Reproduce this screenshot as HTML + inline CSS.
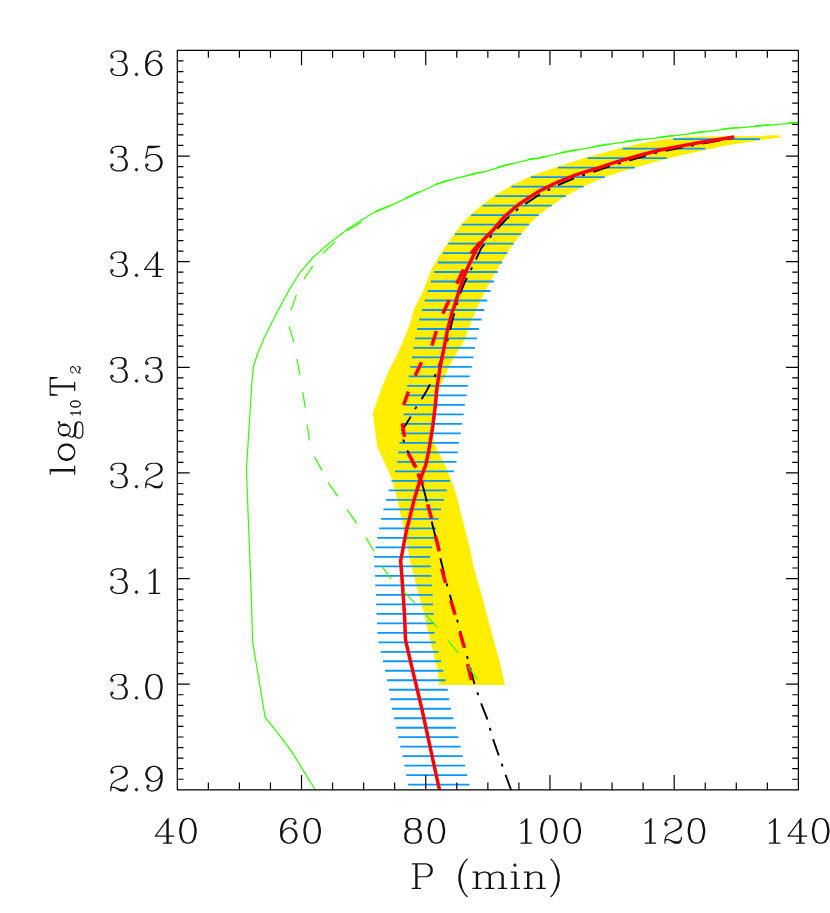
<!DOCTYPE html>
<html><head><meta charset="utf-8"><title>log10 T2 vs P (min)</title>
<style>
html,body{margin:0;padding:0;background:#fff;font-family:"Liberation Sans",sans-serif;}
svg{display:block;}
</style></head>
<body>
<svg width="830" height="913" viewBox="0 0 830 913">
<rect width="830" height="913" fill="#fff"/>
<defs><clipPath id="c"><rect x="177.3" y="50.4" width="621.1" height="739.4"/></clipPath></defs>
<g clip-path="url(#c)">
<polygon points="780.2,135.2 764.6,135.4 764.0,136.2 734.0,136.2 685.3,136.7 673.5,138.3 660.0,139.9 640.0,143.4 622.5,147.5 587.6,157.0 558.1,166.5 531.1,176.0 511.5,185.5 495.3,195.0 482.5,204.5 471.2,214.0 462.1,223.5 455.0,233.0 447.5,243.5 441.0,253.0 431.8,268.6 423.5,290.0 413.6,310.0 411.2,319.9 407.7,329.7 403.8,339.6 399.4,349.4 394.9,359.3 390.0,368.1 380.8,390.0 372.9,413.2 374.9,429.4 377.3,447.1 384.7,462.9 392.1,480.0 395.9,493.7 399.8,511.1 403.6,526.5 406.5,540.0 409.4,558.9 417.1,587.8 424.8,616.7 431.6,645.7 437.3,668.8 439.0,685.0 505.0,685.0 500.0,663.0 495.2,645.7 488.4,620.6 480.7,591.7 474.0,568.6 470.1,549.3 466.3,534.2 461.4,514.9 456.6,495.7 451.3,480.0 445.0,464.9 438.9,453.1 433.9,441.2 431.5,437.0 432.5,418.6 436.4,399.3 440.2,385.9 443.7,379.0 448.1,369.1 453.1,359.3 459.0,349.4 464.9,339.6 470.0,324.8 477.5,307.1 487.0,287.8 497.5,268.6 507.4,252.8 513.7,243.3 521.2,233.9 529.2,224.4 538.8,214.9 551.7,205.4 565.8,195.9 583.7,186.4 604.8,176.9 634.9,167.4 666.7,159.1 676.9,156.3 693.7,152.4 710.6,148.7 727.5,145.3 744.3,142.8 761.2,139.9 780.2,137.7" fill="#ffee00"/>
<path d="M673.2,139.10H759.9M622.5,148.59H705.4M587.6,158.09H666.7M558.1,167.58H634.9M531.1,177.08H604.8M511.5,186.57H583.7M495.3,196.06H565.8M482.5,205.56H551.7M471.2,215.05H538.8M462.1,224.55H529.2M455.0,234.04H521.2M448.2,243.53H513.7M442.8,253.03H507.4M438.0,262.52H502.2M434.1,272.02H497.7M430.7,281.51H493.9M427.6,291.00H490.6M424.7,300.50H487.3M422.0,309.99H484.2M419.3,319.49H481.5M417.0,328.98H479.0M415.0,338.47H476.9M413.5,347.97H475.0M412.0,357.46H473.4M410.2,366.96H471.7M408.7,376.45H469.8M407.1,385.94H467.9M406.5,395.44H466.5M405.5,404.93H464.9M403.6,414.43H463.6M402.1,423.92H462.2M400.7,433.41H460.7M399.4,442.91H459.1M398.2,452.40H457.8M397.1,461.90H456.5M394.9,471.39H453.8M391.5,480.88H450.1M388.6,490.38H446.8M385.9,499.87H443.9M383.4,509.37H441.0M381.1,518.86H438.5M379.1,528.35H436.0M377.2,537.85H433.9M375.5,547.34H432.0M374.1,556.84H430.2M374.3,566.33H430.8M374.9,575.82H431.4M375.3,585.32H432.1M375.9,594.81H432.7M376.2,604.31H433.1M376.6,613.80H433.7M377.0,623.29H434.1M377.4,632.79H434.5M378.4,642.28H435.8M380.7,651.78H438.7M383.0,661.27H441.0M385.1,670.76H443.3M387.1,680.26H445.6M389.1,689.75H447.7M390.3,699.25H449.3M392.0,708.74H451.0M394.1,718.23H453.3M396.2,727.73H455.8M398.2,737.22H458.3M400.3,746.72H460.6M402.4,756.21H462.7M404.3,765.70H465.1M406.3,775.20H467.2M408.2,784.69H469.5" stroke="#0a96ff" stroke-width="1.8" fill="none"/>
<polyline points="734.2,137.8 693.7,145.2 660.0,151.8 640.0,157.4 614.9,164.6 595.7,171.0 576.8,177.3 557.8,185.2 538.8,195.0 519.8,207.5 506.4,219.0 495.3,231.0 481.2,248.2 474.8,262.0 469.9,271.9 465.0,281.7 459.6,295.0 453.1,317.4 449.6,332.2 446.9,342.5 441.0,360.0 434.3,377.5 428.9,386.4 427.1,390.0 421.2,399.9 415.2,408.7 409.3,419.1 401.0,432.4 404.4,443.2 408.3,452.6 416.3,472.0 423.2,487.2 427.1,502.5 432.1,523.2 435.0,535.0 440.6,559.2 447.5,586.8 457.5,621.3 467.4,657.4 474.3,683.4 481.1,703.4 487.2,718.8 493.0,739.0 498.4,754.5 505.5,774.7 510.9,789.5 512.0,792.5" fill="none" stroke="#000" stroke-width="1.9" stroke-dasharray="17.3 8.7 3 8.7" stroke-dashoffset="22.92"/>
<polyline points="734.2,136.9 693.7,143.6 660.0,150.0 640.0,155.3 614.9,162.4 595.7,168.8 576.4,174.6 557.1,182.3 537.8,191.9 518.6,204.5 505.0,216.0 493.1,230.0 483.2,239.9 476.3,249.7 471.4,259.6 466.9,269.4 463.0,279.3 459.6,289.1 456.6,299.0 453.6,308.8 452.6,310.0 450.1,319.9 447.6,329.7 445.7,339.6 443.7,349.4 441.7,359.3 439.8,369.1 438.3,379.0 436.8,388.8 435.4,405.1 432.5,428.2 428.7,451.3 425.8,464.8 420.0,480.2 414.2,499.5 409.4,518.8 406.5,530.0 400.7,560.8 402.7,587.8 404.6,616.7 405.5,639.9 411.3,664.9 421.7,708.2 431.3,752.5 439.4,789.5 440.0,792.0" fill="none" stroke="#ff0000" stroke-width="3.5" stroke-linejoin="round"/>
<path d="M480.4,241.8L470.9,253.6M463.5,269.4L456.8,283.7M449.2,300.0L442.8,313.8M436.4,331.0L431.9,345.5M421.5,362.2L415.2,375.7M408.4,391.6L403.6,405.1M402.2,423.4L404.6,436.9M408.4,453.3L416.1,467.7M418.1,473.5L422.9,485.1M427.7,504.3L431.6,518.8M435.4,535.8L439.3,551.2M441.6,568.6L445.6,583.0M450.8,600.4L455.1,614.8M459.9,632.2L464.3,647.6M467.6,664.0L471.4,680.2" stroke="#ff0000" stroke-width="3.5" fill="none"/>
<polyline points="800.0,122.5 798.0,122.7 727.5,128.8 660.0,137.7 640.0,139.9 614.9,143.3 595.7,146.6 576.4,150.1 557.1,153.9 537.8,158.6 530.0,159.3 504.9,165.7 485.7,171.4 456.7,178.2 437.5,184.0 418.2,192.7 389.3,206.1 372.5,213.2 348.4,228.5 328.6,243.8 313.3,257.0 300.1,272.3 289.2,289.9 283.7,299.7 273.8,318.4 265.1,335.9 258.5,351.2 253.7,365.5 251.9,381.9 250.8,400.0 246.4,470.1 251.5,600.0 252.6,641.6 265.1,717.2 278.2,733.7 291.4,751.2 302.3,768.7 315.0,789.5 316.5,792.0" fill="none" stroke="#33ff00" stroke-width="1.2"/>
<path d="M361.5,221.9L347.3,230.7M335.2,241.6L323.2,253.0M312.8,265.8L303.9,279.3M296.4,294.9L290.9,310.2M289.2,326.7L294.0,342.5M296.8,358.9L300.1,375.3M302.8,391.8L305.2,407.7M307.2,424.5L309.3,440.5M314.4,456.5L322.1,470.6M328.2,482.8L337.8,496.4M347.3,509.6L356.7,523.4M365.9,537.6L374.2,551.2M382.3,566.6L391.1,579.2M403.6,591.7L414.8,602.9M425.8,614.8L437.0,627.0M448.0,640.5L458.0,652.6M468.2,666.5L477.4,679.4" stroke="#33ff00" stroke-width="1.2" fill="none"/>
<polyline points="800.0,122.5 798.0,122.7 727.5,128.8 660.0,137.7 640.0,139.9 614.9,143.3 595.7,146.6 576.4,150.1 557.1,153.9 537.8,158.6 530.0,159.3 504.9,165.7 485.7,171.4 456.7,178.2 437.5,184.0 418.2,192.7 389.3,206.1 372.5,213.2" fill="none" stroke="#33ff00" stroke-width="1.1" stroke-dasharray="16.5 16.1" stroke-dashoffset="3.2" transform="translate(0,-0.6)"/>
</g>
<path d="M177.3,50.4H798.4V789.8H177.3ZM177.30,789.8v-14.8M177.30,50.4v14.8M208.36,789.8v-7.4M208.36,50.4v7.4M239.41,789.8v-7.4M239.41,50.4v7.4M270.46,789.8v-7.4M270.46,50.4v7.4M301.52,789.8v-14.8M301.52,50.4v14.8M332.57,789.8v-7.4M332.57,50.4v7.4M363.63,789.8v-7.4M363.63,50.4v7.4M394.68,789.8v-7.4M394.68,50.4v7.4M425.74,789.8v-14.8M425.74,50.4v14.8M456.79,789.8v-7.4M456.79,50.4v7.4M487.85,789.8v-7.4M487.85,50.4v7.4M518.90,789.8v-7.4M518.90,50.4v7.4M549.96,789.8v-14.8M549.96,50.4v14.8M581.01,789.8v-7.4M581.01,50.4v7.4M612.07,789.8v-7.4M612.07,50.4v7.4M643.12,789.8v-7.4M643.12,50.4v7.4M674.18,789.8v-14.8M674.18,50.4v14.8M705.23,789.8v-7.4M705.23,50.4v7.4M736.29,789.8v-7.4M736.29,50.4v7.4M767.35,789.8v-7.4M767.35,50.4v7.4M798.40,789.8v-14.8M798.40,50.4v14.8M177.3,789.80h12.4M798.4,789.80h-12.4M177.3,779.24h6.2M798.4,779.24h-6.2M177.3,768.67h6.2M798.4,768.67h-6.2M177.3,758.11h6.2M798.4,758.11h-6.2M177.3,747.55h6.2M798.4,747.55h-6.2M177.3,736.99h6.2M798.4,736.99h-6.2M177.3,726.42h6.2M798.4,726.42h-6.2M177.3,715.86h6.2M798.4,715.86h-6.2M177.3,705.30h6.2M798.4,705.30h-6.2M177.3,694.73h6.2M798.4,694.73h-6.2M177.3,684.17h12.4M798.4,684.17h-12.4M177.3,673.61h6.2M798.4,673.61h-6.2M177.3,663.05h6.2M798.4,663.05h-6.2M177.3,652.48h6.2M798.4,652.48h-6.2M177.3,641.92h6.2M798.4,641.92h-6.2M177.3,631.36h6.2M798.4,631.36h-6.2M177.3,620.79h6.2M798.4,620.79h-6.2M177.3,610.23h6.2M798.4,610.23h-6.2M177.3,599.67h6.2M798.4,599.67h-6.2M177.3,589.11h6.2M798.4,589.11h-6.2M177.3,578.54h12.4M798.4,578.54h-12.4M177.3,567.98h6.2M798.4,567.98h-6.2M177.3,557.42h6.2M798.4,557.42h-6.2M177.3,546.85h6.2M798.4,546.85h-6.2M177.3,536.29h6.2M798.4,536.29h-6.2M177.3,525.73h6.2M798.4,525.73h-6.2M177.3,515.17h6.2M798.4,515.17h-6.2M177.3,504.60h6.2M798.4,504.60h-6.2M177.3,494.04h6.2M798.4,494.04h-6.2M177.3,483.48h6.2M798.4,483.48h-6.2M177.3,472.91h12.4M798.4,472.91h-12.4M177.3,462.35h6.2M798.4,462.35h-6.2M177.3,451.79h6.2M798.4,451.79h-6.2M177.3,441.23h6.2M798.4,441.23h-6.2M177.3,430.66h6.2M798.4,430.66h-6.2M177.3,420.10h6.2M798.4,420.10h-6.2M177.3,409.54h6.2M798.4,409.54h-6.2M177.3,398.97h6.2M798.4,398.97h-6.2M177.3,388.41h6.2M798.4,388.41h-6.2M177.3,377.85h6.2M798.4,377.85h-6.2M177.3,367.29h12.4M798.4,367.29h-12.4M177.3,356.72h6.2M798.4,356.72h-6.2M177.3,346.16h6.2M798.4,346.16h-6.2M177.3,335.60h6.2M798.4,335.60h-6.2M177.3,325.03h6.2M798.4,325.03h-6.2M177.3,314.47h6.2M798.4,314.47h-6.2M177.3,303.91h6.2M798.4,303.91h-6.2M177.3,293.35h6.2M798.4,293.35h-6.2M177.3,282.78h6.2M798.4,282.78h-6.2M177.3,272.22h6.2M798.4,272.22h-6.2M177.3,261.66h12.4M798.4,261.66h-12.4M177.3,251.09h6.2M798.4,251.09h-6.2M177.3,240.53h6.2M798.4,240.53h-6.2M177.3,229.97h6.2M798.4,229.97h-6.2M177.3,219.41h6.2M798.4,219.41h-6.2M177.3,208.84h6.2M798.4,208.84h-6.2M177.3,198.28h6.2M798.4,198.28h-6.2M177.3,187.72h6.2M798.4,187.72h-6.2M177.3,177.15h6.2M798.4,177.15h-6.2M177.3,166.59h6.2M798.4,166.59h-6.2M177.3,156.03h12.4M798.4,156.03h-12.4M177.3,145.47h6.2M798.4,145.47h-6.2M177.3,134.90h6.2M798.4,134.90h-6.2M177.3,124.34h6.2M798.4,124.34h-6.2M177.3,113.78h6.2M798.4,113.78h-6.2M177.3,103.21h6.2M798.4,103.21h-6.2M177.3,92.65h6.2M798.4,92.65h-6.2M177.3,82.09h6.2M798.4,82.09h-6.2M177.3,71.53h6.2M798.4,71.53h-6.2M177.3,60.96h6.2M798.4,60.96h-6.2M177.3,50.40h12.4M798.4,50.40h-12.4" stroke="#000" stroke-width="1.2" fill="none" stroke-linecap="butt" stroke-linejoin="round"/>
<path d="M166.98,820.95L166.98,843.09M168.15,818.62L168.15,843.09M168.15,818.62L155.33,836.10L173.97,836.10M163.49,843.09L171.64,843.09M186.78,818.62L183.29,819.78L180.96,823.28L179.80,829.11L179.80,832.60L180.96,838.43L183.29,841.92L186.78,843.09L189.12,843.09L192.61,841.92L194.94,838.43L196.11,832.60L196.11,829.11L194.94,823.28L192.61,819.78L189.12,818.62L186.78,818.62M186.78,818.62L184.46,819.78L183.29,820.95L182.12,823.28L180.96,829.11L180.96,832.60L182.12,838.43L183.29,840.75L184.46,841.92L186.78,843.09M189.12,843.09L191.44,841.92L192.61,840.75L193.78,838.43L194.94,832.60L194.94,829.11L193.78,823.28L192.61,820.95L191.44,819.78L189.12,818.62M294.69,822.12L293.53,823.28L294.69,824.45L295.86,823.28L295.86,822.12L294.69,819.78L292.36,818.62L288.87,818.62L285.38,819.78L283.04,822.12L281.88,824.45L280.71,829.11L280.71,836.10L281.88,839.59L284.21,841.92L287.70,843.09L290.03,843.09L293.53,841.92L295.86,839.59L297.02,836.10L297.02,834.93L295.86,831.44L293.53,829.11L290.03,827.94L288.87,827.94L285.38,829.11L283.04,831.44L281.88,834.93M288.87,818.62L286.54,819.78L284.21,822.12L283.04,824.45L281.88,829.11L281.88,836.10L283.04,839.59L285.38,841.92L287.70,843.09M290.03,843.09L292.36,841.92L294.69,839.59L295.86,836.10L295.86,834.93L294.69,831.44L292.36,829.11L290.03,827.94M311.00,818.62L307.51,819.78L305.18,823.28L304.01,829.11L304.01,832.60L305.18,838.43L307.51,841.92L311.00,843.09L313.33,843.09L316.83,841.92L319.16,838.43L320.32,832.60L320.32,829.11L319.16,823.28L316.83,819.78L313.33,818.62L311.00,818.62M311.00,818.62L308.67,819.78L307.51,820.95L306.34,823.28L305.18,829.11L305.18,832.60L306.34,838.43L307.51,840.75L308.67,841.92L311.00,843.09M313.33,843.09L315.66,841.92L316.83,840.75L318.00,838.43L319.16,832.60L319.16,829.11L318.00,823.28L316.83,820.95L315.66,819.78L313.33,818.62M410.76,818.62L407.26,819.78L406.10,822.12L406.10,825.61L407.26,827.94L410.76,829.11L415.42,829.11L418.92,827.94L420.08,825.61L420.08,822.12L418.92,819.78L415.42,818.62L410.76,818.62M410.76,818.62L408.43,819.78L407.26,822.12L407.26,825.61L408.43,827.94L410.76,829.11M415.42,829.11L417.75,827.94L418.92,825.61L418.92,822.12L417.75,819.78L415.42,818.62M410.76,829.11L407.26,830.27L406.10,831.44L404.94,833.76L404.94,838.43L406.10,840.75L407.26,841.92L410.76,843.09L415.42,843.09L418.92,841.92L420.08,840.75L421.25,838.43L421.25,833.76L420.08,831.44L418.92,830.27L415.42,829.11M410.76,829.11L408.43,830.27L407.26,831.44L406.10,833.76L406.10,838.43L407.26,840.75L408.43,841.92L410.76,843.09M415.42,843.09L417.75,841.92L418.92,840.75L420.08,838.43L420.08,833.76L418.92,831.44L417.75,830.27L415.42,829.11M435.23,818.62L431.73,819.78L429.40,823.28L428.24,829.11L428.24,832.60L429.40,838.43L431.73,841.92L435.23,843.09L437.56,843.09L441.05,841.92L443.38,838.43L444.55,832.60L444.55,829.11L443.38,823.28L441.05,819.78L437.56,818.62L435.23,818.62M435.23,818.62L432.89,819.78L431.73,820.95L430.56,823.28L429.40,829.11L429.40,832.60L430.56,838.43L431.73,840.75L432.89,841.92L435.23,843.09M437.56,843.09L439.88,841.92L441.05,840.75L442.22,838.43L443.38,832.60L443.38,829.11L442.22,823.28L441.05,820.95L439.88,819.78L437.56,818.62M521.00,823.28L523.33,822.12L526.82,818.62L526.82,843.09M525.66,819.78L525.66,843.09M521.00,843.09L531.48,843.09M547.79,818.62L544.30,819.78L541.97,823.28L540.80,829.11L540.80,832.60L541.97,838.43L544.30,841.92L547.79,843.09L550.12,843.09L553.62,841.92L555.95,838.43L557.11,832.60L557.11,829.11L555.95,823.28L553.62,819.78L550.12,818.62L547.79,818.62M547.79,818.62L545.46,819.78L544.30,820.95L543.13,823.28L541.97,829.11L541.97,832.60L543.13,838.43L544.30,840.75L545.46,841.92L547.79,843.09M550.12,843.09L552.45,841.92L553.62,840.75L554.78,838.43L555.95,832.60L555.95,829.11L554.78,823.28L553.62,820.95L552.45,819.78L550.12,818.62M571.09,818.62L567.60,819.78L565.27,823.28L564.10,829.11L564.10,832.60L565.27,838.43L567.60,841.92L571.09,843.09L573.42,843.09L576.92,841.92L579.25,838.43L580.41,832.60L580.41,829.11L579.25,823.28L576.92,819.78L573.42,818.62L571.09,818.62M571.09,818.62L568.76,819.78L567.60,820.95L566.43,823.28L565.27,829.11L565.27,832.60L566.43,838.43L567.60,840.75L568.76,841.92L571.09,843.09M573.42,843.09L575.75,841.92L576.92,840.75L578.08,838.43L579.25,832.60L579.25,829.11L578.08,823.28L576.92,820.95L575.75,819.78L573.42,818.62M645.22,823.28L647.55,822.12L651.04,818.62L651.04,843.09M649.88,819.78L649.88,843.09M645.22,843.09L655.70,843.09M666.19,823.28L667.35,824.45L666.19,825.61L665.02,824.45L665.02,823.28L666.19,820.95L667.35,819.78L670.85,818.62L675.51,818.62L679.00,819.78L680.17,820.95L681.33,823.28L681.33,825.61L680.17,827.94L676.67,830.27L670.85,832.60L668.52,833.76L666.19,836.10L665.02,839.59L665.02,843.09M675.51,818.62L677.84,819.78L679.00,820.95L680.17,823.28L680.17,825.61L679.00,827.94L675.51,830.27L670.85,832.60M665.02,840.75L666.19,839.59L668.52,839.59L674.34,841.92L677.84,841.92L680.17,840.75L681.33,839.59M668.52,839.59L674.34,843.09L679.00,843.09L680.17,841.92L681.33,839.59L681.33,837.26M695.31,818.62L691.82,819.78L689.49,823.28L688.32,829.11L688.32,832.60L689.49,838.43L691.82,841.92L695.31,843.09L697.64,843.09L701.14,841.92L703.47,838.43L704.63,832.60L704.63,829.11L703.47,823.28L701.14,819.78L697.64,818.62L695.31,818.62M695.31,818.62L692.98,819.78L691.82,820.95L690.65,823.28L689.49,829.11L689.49,832.60L690.65,838.43L691.82,840.75L692.98,841.92L695.31,843.09M697.64,843.09L699.97,841.92L701.14,840.75L702.30,838.43L703.47,832.60L703.47,829.11L702.30,823.28L701.14,820.95L699.97,819.78L697.64,818.62M769.44,823.28L771.77,822.12L775.26,818.62L775.26,843.09M774.10,819.78L774.10,843.09M769.44,843.09L779.92,843.09M799.73,820.95L799.73,843.09M800.89,818.62L800.89,843.09M800.89,818.62L788.08,836.10L806.72,836.10M796.23,843.09L804.39,843.09M819.53,818.62L816.04,819.78L813.71,823.28L812.54,829.11L812.54,832.60L813.71,838.43L816.04,841.92L819.53,843.09L821.86,843.09L825.36,841.92L827.69,838.43L828.85,832.60L828.85,829.11L827.69,823.28L825.36,819.78L821.86,818.62L819.53,818.62M819.53,818.62L817.20,819.78L816.04,820.95L814.87,823.28L813.71,829.11L813.71,832.60L814.87,838.43L816.04,840.75L817.20,841.92L819.53,843.09M821.86,843.09L824.19,841.92L825.36,840.75L826.52,838.43L827.69,832.60L827.69,829.11L826.52,823.28L825.36,820.95L824.19,819.78L821.86,818.62M112.01,55.70L113.17,56.86L112.01,58.02L110.84,56.86L110.84,55.70L112.01,53.37L113.17,52.20L116.67,51.03L121.33,51.03L124.82,52.20L125.99,54.53L125.99,58.02L124.82,60.36L121.33,61.52L117.83,61.52M121.33,51.03L123.66,52.20L124.82,54.53L124.82,58.02L123.66,60.36L121.33,61.52M121.33,61.52L123.66,62.69L125.99,65.02L127.16,67.34L127.16,70.84L125.99,73.17L124.82,74.34L121.33,75.50L116.67,75.50L113.17,74.34L112.01,73.17L110.84,70.84L110.84,69.67L112.01,68.51L113.17,69.67L112.01,70.84M124.82,63.85L125.99,67.34L125.99,70.84L124.82,73.17L123.66,74.34L121.33,75.50M136.47,73.17L135.31,74.34L136.47,75.50L137.64,74.34L136.47,73.17M159.78,54.53L158.61,55.70L159.78,56.86L160.94,55.70L160.94,54.53L159.78,52.20L157.44,51.03L153.95,51.03L150.45,52.20L148.12,54.53L146.96,56.86L145.79,61.52L145.79,68.51L146.96,72.00L149.29,74.34L152.78,75.50L155.12,75.50L158.61,74.34L160.94,72.00L162.10,68.51L162.10,67.34L160.94,63.85L158.61,61.52L155.12,60.36L153.95,60.36L150.45,61.52L148.12,63.85L146.96,67.34M153.95,51.03L151.62,52.20L149.29,54.53L148.12,56.86L146.96,61.52L146.96,68.51L148.12,72.00L150.45,74.34L152.78,75.50M155.12,75.50L157.44,74.34L159.78,72.00L160.94,68.51L160.94,67.34L159.78,63.85L157.44,61.52L155.12,60.36M112.01,151.02L113.17,152.19L112.01,153.35L110.84,152.19L110.84,151.02L112.01,148.69L113.17,147.53L116.67,146.36L121.33,146.36L124.82,147.53L125.99,149.86L125.99,153.35L124.82,155.68L121.33,156.85L117.83,156.85M121.33,146.36L123.66,147.53L124.82,149.86L124.82,153.35L123.66,155.68L121.33,156.85M121.33,156.85L123.66,158.01L125.99,160.34L127.16,162.67L127.16,166.17L125.99,168.50L124.82,169.66L121.33,170.83L116.67,170.83L113.17,169.66L112.01,168.50L110.84,166.17L110.84,165.00L112.01,163.84L113.17,165.00L112.01,166.17M124.82,159.18L125.99,162.67L125.99,166.17L124.82,168.50L123.66,169.66L121.33,170.83M136.47,168.50L135.31,169.66L136.47,170.83L137.64,169.66L136.47,168.50M148.12,146.36L145.79,158.01M145.79,158.01L148.12,155.68L151.62,154.52L155.12,154.52L158.61,155.68L160.94,158.01L162.10,161.51L162.10,163.84L160.94,167.33L158.61,169.66L155.12,170.83L151.62,170.83L148.12,169.66L146.96,168.50L145.79,166.17L145.79,165.00L146.96,163.84L148.12,165.00L146.96,166.17M155.12,154.52L157.44,155.68L159.78,158.01L160.94,161.51L160.94,163.84L159.78,167.33L157.44,169.66L155.12,170.83M148.12,146.36L159.78,146.36M148.12,147.53L153.95,147.53L159.78,146.36M112.01,256.65L113.17,257.82L112.01,258.98L110.84,257.82L110.84,256.65L112.01,254.32L113.17,253.16L116.67,251.99L121.33,251.99L124.82,253.16L125.99,255.49L125.99,258.98L124.82,261.31L121.33,262.48L117.83,262.48M121.33,251.99L123.66,253.16L124.82,255.49L124.82,258.98L123.66,261.31L121.33,262.48M121.33,262.48L123.66,263.64L125.99,265.97L127.16,268.30L127.16,271.80L125.99,274.13L124.82,275.29L121.33,276.46L116.67,276.46L113.17,275.29L112.01,274.13L110.84,271.80L110.84,270.63L112.01,269.47L113.17,270.63L112.01,271.80M124.82,264.81L125.99,268.30L125.99,271.80L124.82,274.13L123.66,275.29L121.33,276.46M136.47,274.13L135.31,275.29L136.47,276.46L137.64,275.29L136.47,274.13M156.28,254.32L156.28,276.46M157.44,251.99L157.44,276.46M157.44,251.99L144.63,269.47L163.27,269.47M152.78,276.46L160.94,276.46M112.01,362.28L113.17,363.45L112.01,364.61L110.84,363.45L110.84,362.28L112.01,359.95L113.17,358.79L116.67,357.62L121.33,357.62L124.82,358.79L125.99,361.12L125.99,364.61L124.82,366.94L121.33,368.11L117.83,368.11M121.33,357.62L123.66,358.79L124.82,361.12L124.82,364.61L123.66,366.94L121.33,368.11M121.33,368.11L123.66,369.27L125.99,371.60L127.16,373.93L127.16,377.43L125.99,379.76L124.82,380.92L121.33,382.09L116.67,382.09L113.17,380.92L112.01,379.76L110.84,377.43L110.84,376.26L112.01,375.10L113.17,376.26L112.01,377.43M124.82,370.44L125.99,373.93L125.99,377.43L124.82,379.76L123.66,380.92L121.33,382.09M136.47,379.76L135.31,380.92L136.47,382.09L137.64,380.92L136.47,379.76M146.96,362.28L148.12,363.45L146.96,364.61L145.79,363.45L145.79,362.28L146.96,359.95L148.12,358.79L151.62,357.62L156.28,357.62L159.78,358.79L160.94,361.12L160.94,364.61L159.78,366.94L156.28,368.11L152.78,368.11M156.28,357.62L158.61,358.79L159.78,361.12L159.78,364.61L158.61,366.94L156.28,368.11M156.28,368.11L158.61,369.27L160.94,371.60L162.10,373.93L162.10,377.43L160.94,379.76L159.78,380.92L156.28,382.09L151.62,382.09L148.12,380.92L146.96,379.76L145.79,377.43L145.79,376.26L146.96,375.10L148.12,376.26L146.96,377.43M159.78,370.44L160.94,373.93L160.94,377.43L159.78,379.76L158.61,380.92L156.28,382.09M112.01,467.91L113.17,469.07L112.01,470.24L110.84,469.07L110.84,467.91L112.01,465.58L113.17,464.41L116.67,463.25L121.33,463.25L124.82,464.41L125.99,466.74L125.99,470.24L124.82,472.57L121.33,473.73L117.83,473.73M121.33,463.25L123.66,464.41L124.82,466.74L124.82,470.24L123.66,472.57L121.33,473.73M121.33,473.73L123.66,474.90L125.99,477.23L127.16,479.56L127.16,483.05L125.99,485.38L124.82,486.55L121.33,487.71L116.67,487.71L113.17,486.55L112.01,485.38L110.84,483.05L110.84,481.89L112.01,480.72L113.17,481.89L112.01,483.05M124.82,476.06L125.99,479.56L125.99,483.05L124.82,485.38L123.66,486.55L121.33,487.71M136.47,485.38L135.31,486.55L136.47,487.71L137.64,486.55L136.47,485.38M146.96,467.91L148.12,469.07L146.96,470.24L145.79,469.07L145.79,467.91L146.96,465.58L148.12,464.41L151.62,463.25L156.28,463.25L159.78,464.41L160.94,465.58L162.10,467.91L162.10,470.24L160.94,472.57L157.44,474.90L151.62,477.23L149.29,478.39L146.96,480.72L145.79,484.22L145.79,487.71M156.28,463.25L158.61,464.41L159.78,465.58L160.94,467.91L160.94,470.24L159.78,472.57L156.28,474.90L151.62,477.23M145.79,485.38L146.96,484.22L149.29,484.22L155.12,486.55L158.61,486.55L160.94,485.38L162.10,484.22M149.29,484.22L155.12,487.71L159.78,487.71L160.94,486.55L162.10,484.22L162.10,481.89M112.01,573.54L113.17,574.70L112.01,575.87L110.84,574.70L110.84,573.54L112.01,571.21L113.17,570.04L116.67,568.88L121.33,568.88L124.82,570.04L125.99,572.37L125.99,575.87L124.82,578.20L121.33,579.36L117.83,579.36M121.33,568.88L123.66,570.04L124.82,572.37L124.82,575.87L123.66,578.20L121.33,579.36M121.33,579.36L123.66,580.53L125.99,582.86L127.16,585.19L127.16,588.68L125.99,591.01L124.82,592.18L121.33,593.34L116.67,593.34L113.17,592.18L112.01,591.01L110.84,588.68L110.84,587.52L112.01,586.35L113.17,587.52L112.01,588.68M124.82,581.69L125.99,585.19L125.99,588.68L124.82,591.01L123.66,592.18L121.33,593.34M136.47,591.01L135.31,592.18L136.47,593.34L137.64,592.18L136.47,591.01M149.29,573.54L151.62,572.37L155.12,568.88L155.12,593.34M153.95,570.04L153.95,593.34M149.29,593.34L159.78,593.34M112.01,679.17L113.17,680.33L112.01,681.50L110.84,680.33L110.84,679.17L112.01,676.84L113.17,675.67L116.67,674.51L121.33,674.51L124.82,675.67L125.99,678.00L125.99,681.50L124.82,683.83L121.33,684.99L117.83,684.99M121.33,674.51L123.66,675.67L124.82,678.00L124.82,681.50L123.66,683.83L121.33,684.99M121.33,684.99L123.66,686.16L125.99,688.49L127.16,690.82L127.16,694.31L125.99,696.64L124.82,697.81L121.33,698.97L116.67,698.97L113.17,697.81L112.01,696.64L110.84,694.31L110.84,693.15L112.01,691.98L113.17,693.15L112.01,694.31M124.82,687.32L125.99,690.82L125.99,694.31L124.82,696.64L123.66,697.81L121.33,698.97M136.47,696.64L135.31,697.81L136.47,698.97L137.64,697.81L136.47,696.64M152.78,674.51L149.29,675.67L146.96,679.17L145.79,684.99L145.79,688.49L146.96,694.31L149.29,697.81L152.78,698.97L155.12,698.97L158.61,697.81L160.94,694.31L162.10,688.49L162.10,684.99L160.94,679.17L158.61,675.67L155.12,674.51L152.78,674.51M152.78,674.51L150.45,675.67L149.29,676.84L148.12,679.17L146.96,684.99L146.96,688.49L148.12,694.31L149.29,696.64L150.45,697.81L152.78,698.97M155.12,698.97L157.44,697.81L158.61,696.64L159.78,694.31L160.94,688.49L160.94,684.99L159.78,679.17L158.61,676.84L157.44,675.67L155.12,674.51M112.01,770.99L113.17,772.16L112.01,773.32L110.84,772.16L110.84,770.99L112.01,768.66L113.17,767.50L116.67,766.33L121.33,766.33L124.82,767.50L125.99,768.66L127.16,770.99L127.16,773.32L125.99,775.65L122.49,777.98L116.67,780.31L114.34,781.48L112.01,783.81L110.84,787.30L110.84,790.80M121.33,766.33L123.66,767.50L124.82,768.66L125.99,770.99L125.99,773.32L124.82,775.65L121.33,777.98L116.67,780.31M110.84,788.47L112.01,787.30L114.34,787.30L120.16,789.63L123.66,789.63L125.99,788.47L127.16,787.30M114.34,787.30L120.16,790.80L124.82,790.80L125.99,789.63L127.16,787.30L127.16,784.97M136.47,788.47L135.31,789.63L136.47,790.80L137.64,789.63L136.47,788.47M160.94,774.49L159.78,777.98L157.44,780.31L153.95,781.48L152.78,781.48L149.29,780.31L146.96,777.98L145.79,774.49L145.79,773.32L146.96,769.83L149.29,767.50L152.78,766.33L155.12,766.33L158.61,767.50L160.94,769.83L162.10,773.32L162.10,780.31L160.94,784.97L159.78,787.30L157.44,789.63L153.95,790.80L150.45,790.80L148.12,789.63L146.96,787.30L146.96,786.14L148.12,784.97L149.29,786.14L148.12,787.30M152.78,781.48L150.45,780.31L148.12,777.98L146.96,774.49L146.96,773.32L148.12,769.83L150.45,767.50L152.78,766.33M155.12,766.33L157.44,767.50L159.78,769.83L160.94,773.32L160.94,780.31L159.78,784.97L158.61,787.30L156.28,789.63L153.95,790.80M415.82,863.92L415.82,888.38M416.99,863.92L416.99,888.38M412.33,863.92L426.31,863.92L429.81,865.08L430.97,866.25L432.13,868.58L432.13,872.07L430.97,874.40L429.81,875.57L426.31,876.74L416.99,876.74M426.31,863.92L428.64,865.08L429.81,866.25L430.97,868.58L430.97,872.07L429.81,874.40L428.64,875.57L426.31,876.74M412.33,888.38L420.49,888.38M467.09,859.26L464.75,861.59L462.43,865.08L460.10,869.75L458.93,875.57L458.93,880.23L460.10,886.05L462.43,890.72L464.75,894.21L467.09,896.54M464.75,861.59L462.43,866.25L461.26,869.75L460.10,875.57L460.10,880.23L461.26,886.05L462.43,889.55L464.75,894.21M476.40,872.07L476.40,888.38M477.57,872.07L477.57,888.38M477.57,875.57L479.90,873.24L483.39,872.07L485.73,872.07L489.22,873.24L490.38,875.57L490.38,888.38M485.73,872.07L488.06,873.24L489.22,875.57L489.22,888.38M490.38,875.57L492.72,873.24L496.21,872.07L498.54,872.07L502.04,873.24L503.20,875.57L503.20,888.38M498.54,872.07L500.87,873.24L502.04,875.57L502.04,888.38M472.91,872.07L477.57,872.07M472.91,888.38L481.06,888.38M485.73,888.38L493.88,888.38M498.54,888.38L506.69,888.38M514.85,863.92L513.68,865.08L514.85,866.25L516.01,865.08L514.85,863.92M514.85,872.07L514.85,888.38M516.01,872.07L516.01,888.38M511.36,872.07L516.01,872.07M511.36,888.38L519.51,888.38M527.66,872.07L527.66,888.38M528.83,872.07L528.83,888.38M528.83,875.57L531.16,873.24L534.65,872.07L536.99,872.07L540.48,873.24L541.64,875.57L541.64,888.38M536.99,872.07L539.32,873.24L540.48,875.57L540.48,888.38M524.17,872.07L528.83,872.07M524.17,888.38L532.33,888.38M536.99,888.38L545.14,888.38M550.97,859.26L553.29,861.59L555.62,865.08L557.95,869.75L559.12,875.57L559.12,880.23L557.95,886.05L555.62,890.72L553.29,894.21L550.97,896.54M553.29,861.59L555.62,866.25L556.79,869.75L557.95,875.57L557.95,880.23L556.79,886.05L555.62,889.55L553.29,894.21M50.22,470.78L74.69,470.78M50.22,469.61L74.69,469.61M50.22,474.27L50.22,469.61M74.69,474.27L74.69,466.12M58.38,453.30L59.54,456.80L61.87,459.12L65.37,460.29L67.70,460.29L71.19,459.12L73.52,456.80L74.69,453.30L74.69,450.97L73.52,447.48L71.19,445.15L67.70,443.98L65.37,443.98L61.87,445.15L59.54,447.48L58.38,450.97L58.38,453.30M58.38,453.30L59.54,455.63L61.87,457.96L65.37,459.12L67.70,459.12L71.19,457.96L73.52,455.63L74.69,453.30M74.69,450.97L73.52,448.64L71.19,446.31L67.70,445.15L65.37,445.15L61.87,446.31L59.54,448.64L58.38,450.97M58.38,431.17L59.54,433.50L60.71,434.66L63.04,435.83L65.37,435.83L67.70,434.66L68.86,433.50L70.03,431.17L70.03,428.84L68.86,426.50L67.70,425.34L65.37,424.18L63.04,424.18L60.71,425.34L59.54,426.50L58.38,428.84L58.38,431.17M59.54,433.50L61.87,434.66L66.53,434.66L68.86,433.50M68.86,426.50L66.53,425.34L61.87,425.34L59.54,426.50M60.71,425.34L59.54,424.18L58.38,421.85L59.54,421.85L59.54,424.18M67.70,434.66L68.86,435.83L71.19,436.99L72.36,436.99L74.69,435.83L75.85,432.33L75.85,426.50L77.02,423.01L78.18,421.85M72.36,436.99L73.52,435.83L74.69,432.33L74.69,426.50L75.85,423.01L78.18,421.85L79.34,421.85L81.68,423.01L82.84,426.50L82.84,433.50L81.68,436.99L79.34,438.16L78.18,438.16L75.85,436.99L74.69,433.50M50.22,387.01L74.69,387.01M50.22,385.85L74.69,385.85M50.22,394.00L57.21,395.17L50.22,395.17L50.22,377.69L57.21,377.69L50.22,378.86M74.69,390.51L74.69,382.36" stroke="#111" stroke-width="1.20" fill="none" stroke-linecap="round" stroke-linejoin="round"/>
<path d="M72.38,415.04L71.92,414.12L70.54,412.74L80.20,412.74M71.00,413.20L80.20,413.20M80.20,415.04L80.20,410.90M70.54,404.46L71.00,405.84L72.38,406.76L74.68,407.22L76.06,407.22L78.36,406.76L79.74,405.84L80.20,404.46L80.20,403.54L79.74,402.16L78.36,401.24L76.06,400.78L74.68,400.78L72.38,401.24L71.00,402.16L70.54,403.54L70.54,404.46M70.54,404.46L71.00,405.38L71.46,405.84L72.38,406.30L74.68,406.76L76.06,406.76L78.36,406.30L79.28,405.84L79.74,405.38L80.20,404.46M80.20,403.54L79.74,402.62L79.28,402.16L78.36,401.70L76.06,401.24L74.68,401.24L72.38,401.70L71.46,402.16L71.00,402.62L70.54,403.54M72.38,372.46L72.84,372.00L73.30,372.46L72.84,372.92L72.38,372.92L71.46,372.46L71.00,372.00L70.54,370.62L70.54,368.78L71.00,367.40L71.46,366.94L72.38,366.48L73.30,366.48L74.22,366.94L75.14,368.32L76.06,370.62L76.52,371.54L77.44,372.46L78.82,372.92L80.20,372.92M70.54,368.78L71.00,367.86L71.46,367.40L72.38,366.94L73.30,366.94L74.22,367.40L75.14,368.78L76.06,370.62M79.28,372.92L78.82,372.46L78.82,371.54L79.74,369.24L79.74,367.86L79.28,366.94L78.82,366.48M78.82,371.54L80.20,369.24L80.20,367.40L79.74,366.94L78.82,366.48L77.90,366.48" stroke="#111" stroke-width="0.9" fill="none" stroke-linecap="round" stroke-linejoin="round"/>
</svg>
</body></html>
